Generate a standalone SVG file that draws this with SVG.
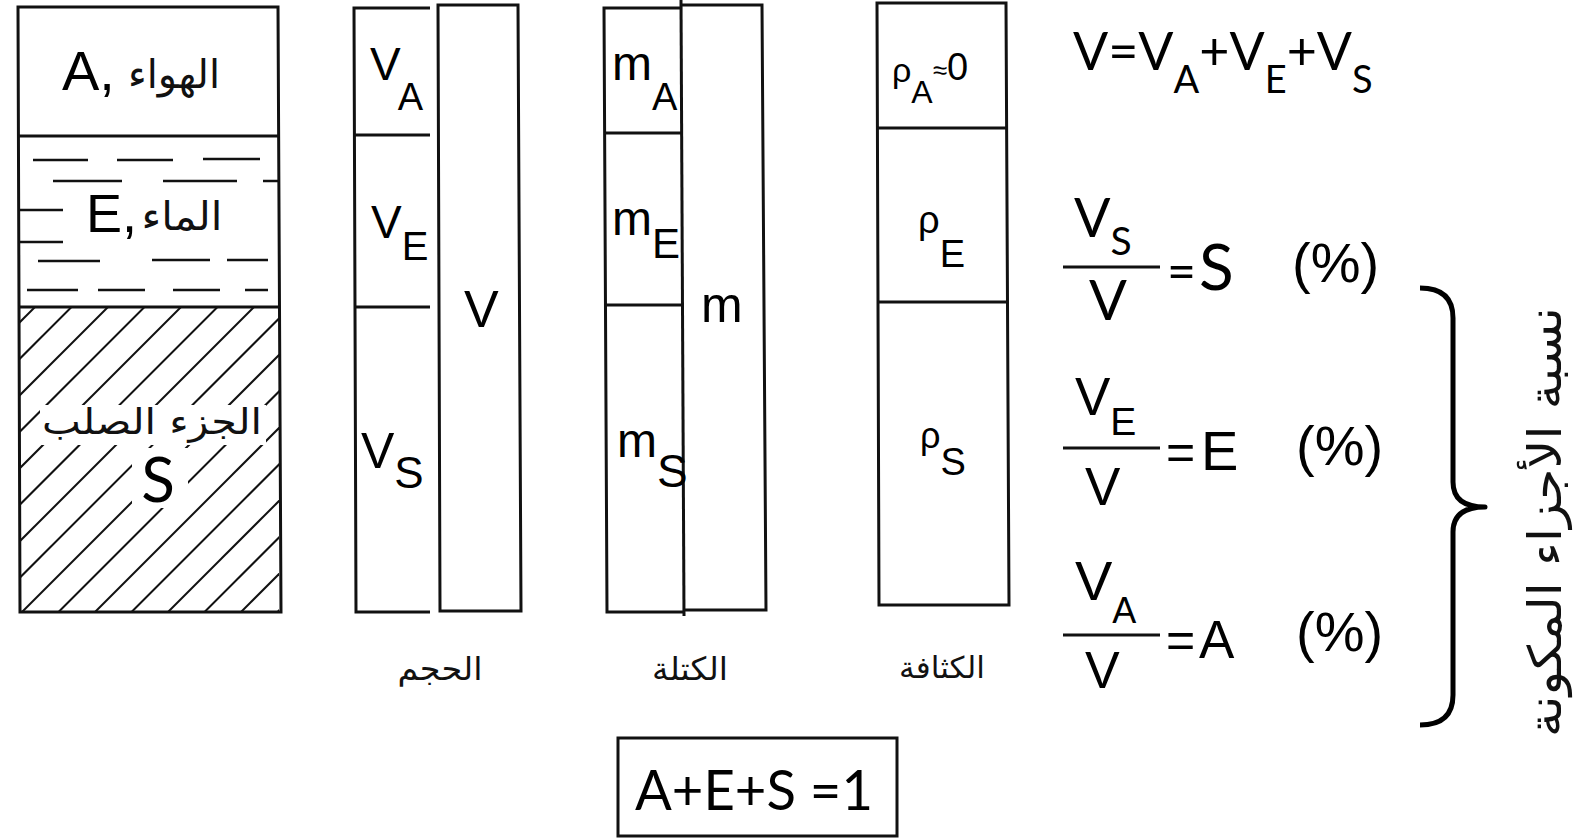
<svg xmlns="http://www.w3.org/2000/svg" width="1578" height="838" viewBox="0 0 1578 838">
<style>
.box{fill:none;stroke:#111;stroke-width:3}
.ln{stroke:#111;stroke-width:3;fill:none}
.dash{stroke:#111;stroke-width:2.5}
.hat{stroke:#111;stroke-width:2}
.t{font-family:"Liberation Sans",Arial,sans-serif;fill:#000}
.c{font-family:Lato,"Liberation Sans",sans-serif;fill:#000}
.ar{font-family:"DejaVu Sans","Noto Sans",sans-serif;fill:#111}
</style>
<defs>
<clipPath id="solidClip"><rect x="19" y="308" width="260" height="303"/></clipPath>
</defs>
<rect x="0" y="0" width="1578" height="838" fill="#fff"/>

<g id="soil-column">
  <g clip-path="url(#solidClip)" class="hat">
    <line x1="42" y1="300" x2="-278" y2="620"/>
    <line x1="78.5" y1="300" x2="-241.5" y2="620"/>
    <line x1="115" y1="300" x2="-205" y2="620"/>
    <line x1="151.5" y1="300" x2="-168.5" y2="620"/>
    <line x1="188" y1="300" x2="-132" y2="620"/>
    <line x1="224.5" y1="300" x2="-95.5" y2="620"/>
    <line x1="261" y1="300" x2="-59" y2="620"/>
    <line x1="297.5" y1="300" x2="-22.5" y2="620"/>
    <line x1="334" y1="300" x2="14" y2="620"/>
    <line x1="370.5" y1="300" x2="50.5" y2="620"/>
    <line x1="407" y1="300" x2="87" y2="620"/>
    <line x1="443.5" y1="300" x2="123.5" y2="620"/>
    <line x1="480" y1="300" x2="160" y2="620"/>
    <line x1="516.5" y1="300" x2="196.5" y2="620"/>
    <line x1="553" y1="300" x2="233" y2="620"/>
    <line x1="589.5" y1="300" x2="269.5" y2="620"/>
  </g>
  <rect x="40" y="405" width="226" height="40" fill="#fff"/>
  <rect x="132" y="448" width="56" height="60" fill="#fff"/>
  <g class="dash">
    <line x1="33" y1="160" x2="88" y2="160"/>
    <line x1="117" y1="160" x2="173" y2="160"/>
    <line x1="203" y1="159" x2="260" y2="159"/>
    <line x1="53" y1="181" x2="122" y2="181"/>
    <line x1="163" y1="181" x2="237" y2="181"/>
    <line x1="263" y1="181" x2="278" y2="181"/>
    <line x1="20" y1="210" x2="63" y2="210"/>
    <line x1="20" y1="242" x2="63" y2="242"/>
    <line x1="38" y1="261" x2="100" y2="261"/>
    <line x1="152" y1="260" x2="210" y2="260"/>
    <line x1="227" y1="260" x2="268" y2="260"/>
    <line x1="27" y1="290" x2="78" y2="290"/>
    <line x1="98" y1="290" x2="145" y2="290"/>
    <line x1="173" y1="290" x2="220" y2="290"/>
    <line x1="245" y1="290" x2="268" y2="290"/>
  </g>
  <path class="ln" d="M18 7 L278 7 L281 612 L20 612 Z"/>
  <line class="ln" x1="18" y1="136" x2="279" y2="136"/>
  <line class="ln" x1="19" y1="307" x2="280" y2="307"/>
  <text class="t" x="62" y="90" font-size="56">A,</text>
  <text class="ar" x="174" y="88" font-size="40" text-anchor="middle" textLength="92" lengthAdjust="spacingAndGlyphs">الهواء</text>
  <text class="t" x="86" y="232" font-size="54">E,</text>
  <text class="ar" x="182" y="230" font-size="40" text-anchor="middle" textLength="81" lengthAdjust="spacingAndGlyphs">الماء</text>
  <text class="ar" x="152" y="434" font-size="36" text-anchor="middle" textLength="220" lengthAdjust="spacingAndGlyphs" fill="#222">الجزء الصلب</text>
  <text class="c" x="158" y="502" font-size="62" text-anchor="middle">S</text>
</g>

<g id="volume-column">
  <path class="ln" d="M430 8 L354 8 L356 612 L430 612"/>
  <line class="ln" x1="354" y1="135" x2="430" y2="135"/>
  <line class="ln" x1="355" y1="307" x2="430" y2="307"/>
  <path class="ln" d="M438 5 L518 5 L521 611 L440 611 Z"/>
  <text class="t" x="370" y="80" font-size="46">V<tspan font-size="38" dx="-3" dy="30">A</tspan></text>
  <text class="t" x="371" y="238" font-size="46">V<tspan font-size="40" dy="22">E</tspan></text>
  <text class="t" x="361" y="468" font-size="50">V<tspan font-size="44" dy="20">S</tspan></text>
  <text class="t" x="464" y="327" font-size="52">V</text>
  <text class="ar" x="440" y="680" font-size="32" text-anchor="middle" textLength="85" lengthAdjust="spacingAndGlyphs">الحجم</text>
</g>

<g id="mass-column">
  <path class="ln" d="M680 8 L604 8 L607 612 L683 612"/>
  <line class="ln" x1="604" y1="133" x2="681" y2="133"/>
  <line class="ln" x1="606" y1="305" x2="682" y2="305"/>
  <line class="ln" x1="681" y1="0" x2="684" y2="616"/>
  <path class="ln" d="M681 5 L762 5 L766 610 L684 610"/>
  <text class="t" x="612" y="80" font-size="48">m<tspan font-size="38" dy="30">A</tspan></text>
  <text class="t" x="612" y="235" font-size="48">m<tspan font-size="42" dy="23">E</tspan></text>
  <text class="t" x="617" y="457" font-size="48">m<tspan font-size="46" dy="30">S</tspan></text>
  <text class="t" x="701" y="322" font-size="50">m</text>
  <text class="ar" x="690" y="680" font-size="32" text-anchor="middle" textLength="76" lengthAdjust="spacingAndGlyphs">الكتلة</text>
</g>

<g id="density-column">
  <path class="ln" d="M877 3 L1006 3 L1009 605 L879 605 Z"/>
  <line class="ln" x1="877" y1="128" x2="1007" y2="128"/>
  <line class="ln" x1="878" y1="302" x2="1008" y2="302"/>
  <text class="t" x="892" y="82" font-size="34">ρ<tspan font-size="32" dy="21">A</tspan><tspan font-size="26" dy="-24">≈</tspan><tspan font-size="38" dy="1">0</tspan></text>
  <text class="t" x="918" y="233" font-size="38">ρ<tspan font-size="38" dy="34">E</tspan></text>
  <text class="t" x="920" y="448" font-size="36">ρ<tspan font-size="38" dy="27">S</tspan></text>
  <text class="ar" x="942" y="678" font-size="30" text-anchor="middle" textLength="86" lengthAdjust="spacingAndGlyphs">الكثافة</text>
</g>

<g id="formula-total">
  <text class="c" x="1073" y="70" font-size="52">V=V<tspan font-size="38" dy="23">A</tspan><tspan dy="-23">+V</tspan><tspan font-size="38" dy="23">E</tspan><tspan dy="-23">+V</tspan><tspan font-size="38" dy="23">S</tspan></text>
</g>

<g id="formula-S">
  <text class="c" x="1074" y="237" font-size="54">V<tspan font-size="39" dy="18">S</tspan></text>
  <line class="ln" x1="1063" y1="267" x2="1160" y2="267" stroke-width="4"/>
  <text class="c" x="1089" y="320" font-size="56">V</text>
  <text class="c" x="1167" y="289" font-size="50">=</text>
  <text class="c" x="1199" y="290" font-size="64">S</text>
  <text class="t" x="1292" y="282" font-size="56">(%)</text>
</g>

<g id="formula-E">
  <text class="t" x="1075" y="415" font-size="53">V<tspan font-size="39" dy="20">E</tspan></text>
  <line class="ln" x1="1063" y1="448" x2="1160" y2="448" stroke-width="4"/>
  <text class="t" x="1085" y="505" font-size="53">V</text>
  <text class="t" x="1166" y="469" font-size="50">=</text>
  <text class="t" x="1201" y="470" font-size="56">E</text>
  <text class="t" x="1296" y="465" font-size="56">(%)</text>
</g>

<g id="formula-A">
  <text class="t" x="1075" y="600" font-size="56">V<tspan font-size="36" dy="23">A</tspan></text>
  <line class="ln" x1="1063" y1="635" x2="1160" y2="635" stroke-width="4"/>
  <text class="t" x="1085" y="688" font-size="52">V</text>
  <text class="t" x="1166" y="657" font-size="50">=</text>
  <text class="t" x="1199" y="658" font-size="53">A</text>
  <text class="t" x="1296" y="651" font-size="56">(%)</text>
</g>

<g id="sum-box">
  <rect class="box" x="618" y="738" width="279" height="98"/>
  <text class="c" x="635" y="810" font-size="56" textLength="238" lengthAdjust="spacingAndGlyphs">A+E+S =1</text>
</g>

<g id="brace">
  <path d="M1420 288 Q1453 288 1453 318 L1453 482 Q1453 507 1485 507 Q1453 507 1453 532 L1453 695 Q1453 725 1420 725" fill="none" stroke="#000" stroke-width="5" stroke-linejoin="round"/>
</g>

<g id="side-label">
  <text class="ar" transform="translate(1561,522) rotate(-90)" x="0" y="0" font-size="46" text-anchor="middle" textLength="430" lengthAdjust="spacingAndGlyphs" fill="#000">نسبة الأجزاء المكونة</text>
</g>
</svg>
